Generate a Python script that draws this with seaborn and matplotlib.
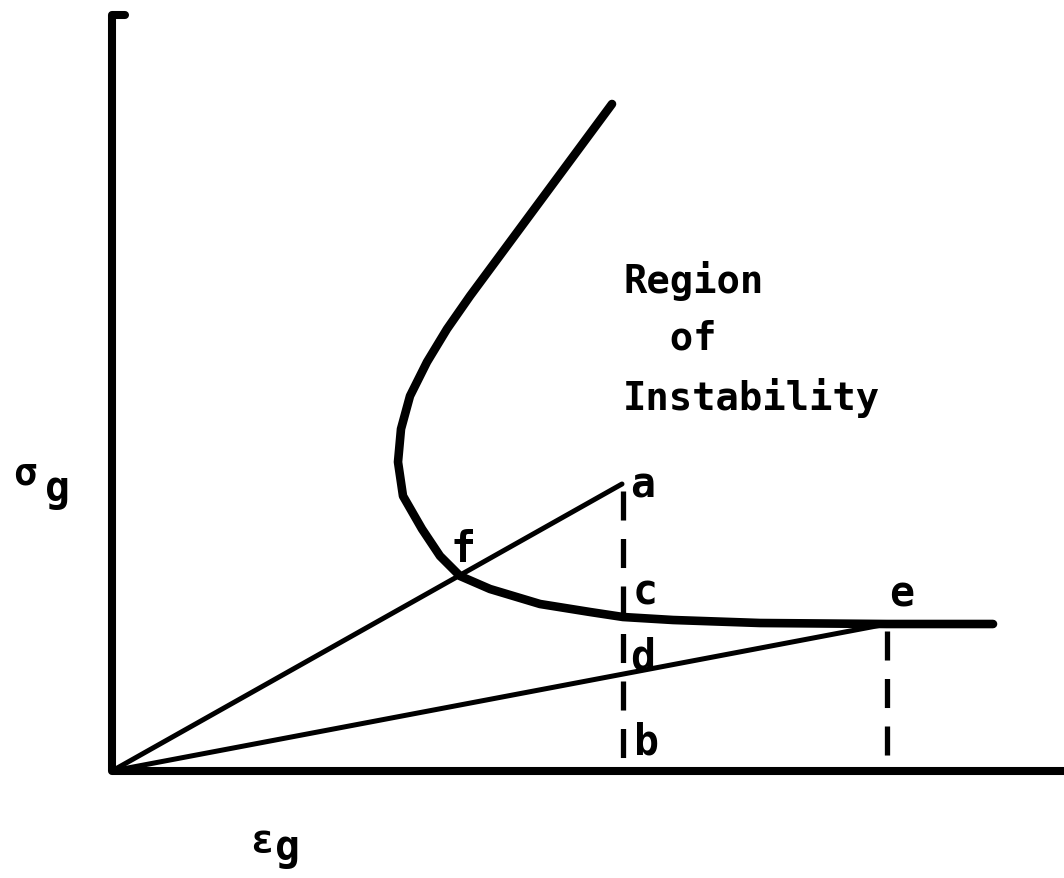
import numpy as np
import pandas as pd
import matplotlib
matplotlib.use("Agg")
import matplotlib.pyplot as plt
import seaborn as sns

# axes of the sketch (strain along x, stress along y)
axis_strain = [0.13, 0.0, 0.0, 9.52]
axis_stress = [7.56, 7.56, 0.0, 0.0]

# stress-strain stability curve
curve_strain = [5.00, 3.58, 3.35, 3.15, 2.98, 2.89, 2.86, 2.91, 3.10, 3.28,
                3.48, 3.78, 4.28, 4.78, 5.11, 5.61, 6.48, 7.75, 8.81]
curve_stress = [6.67, 4.75, 4.42, 4.09, 3.75, 3.42, 3.09, 2.75, 2.42, 2.15,
                1.95, 1.82, 1.67, 1.59, 1.54, 1.51, 1.48, 1.47, 1.47]

# load lines from the origin to a and to e
ray_a_strain = [0.0, 5.10]
ray_a_stress = [0.0, 2.87]
ray_e_strain = [0.0, 7.75]
ray_e_stress = [0.0, 1.47]

# dashed drops to the strain axis
drop_a_strain = [5.11, 5.11]
drop_a_stress = [2.80, 0.0]
drop_e_strain = [7.75, 7.75]
drop_e_stress = [1.40, 0.0]

point_labels = ["a", "c", "d", "b", "e", "f"]
point_x = [5.18, 5.21, 5.18, 5.22, 7.77, 3.39]
point_y = [2.74, 1.67, 1.02, 0.17, 1.65, 2.10]

region_lines = ["Region", "  of", "Instability"]
region_y = [4.79, 4.22, 3.62]

sns.set_theme(style="white")
plt.rcParams['font.family'] = ['DejaVu Sans Mono', 'DejaVu Sans']
plt.rcParams['text.color'] = 'black'

fig = plt.figure(figsize=(10.64, 8.79), dpi=100)
ax = fig.add_axes([0, 0, 1, 1])

ax.plot(axis_strain, axis_stress, color="black", lw=5.8,
        solid_capstyle="round", solid_joinstyle="round")

curve = pd.DataFrame({"strain": curve_strain, "stress": curve_stress})
sns.lineplot(data=curve, x="strain", y="stress", sort=False, estimator=None,
             color="black", lw=6.2, ax=ax)
ax.lines[-1].set_solid_capstyle("round")
ax.lines[-1].set_solid_joinstyle("round")

for xs, ys in [(ray_a_strain, ray_a_stress), (ray_e_strain, ray_e_stress)]:
    sns.lineplot(x=xs, y=ys, sort=False, estimator=None, color="black",
                 lw=3.6, ax=ax)

for xs, ys in [(drop_a_strain, drop_a_stress), (drop_e_strain, drop_e_stress)]:
    ax.plot(xs, ys, color="black", lw=3.8, dashes=(5.5, 3.5))

txt = dict(fontweight="bold", ha="left", va="baseline", color="black")

for lab, x, y in zip(point_labels, point_x, point_y):
    ax.text(x, y, lab, fontsize=30, **txt)

for line, y in zip(region_lines, region_y):
    ax.text(5.11, y, line, fontsize=28, **txt)

# axis symbols
ax.text(-0.99, 2.87, "σ", fontsize=28, **txt)
ax.text(-0.67, 2.71, "g", fontsize=30, **txt)
ax.text(1.38, -0.80, "ε", fontsize=28, **txt)
ax.text(1.63, -0.88, "g", fontsize=30, **txt)

ax.set_xlim(-1.12, 9.52)
ax.set_ylim(-1.07, 7.72)
ax.set_axis_off()

fig.savefig("out.png", dpi=100, facecolor="white")
